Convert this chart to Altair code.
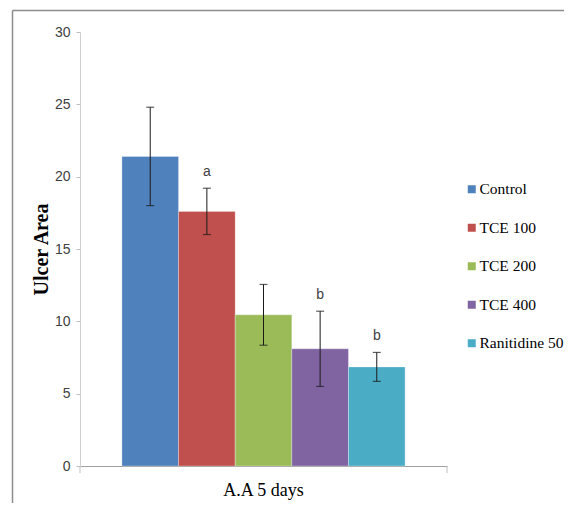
import altair as alt
import pandas as pd

groups = ["Control", "TCE 100", "TCE 200", "TCE 400", "Ranitidine 50"]
means = [21.4, 17.6, 10.45, 8.1, 6.85]
errs = [3.4, 1.6, 2.1, 2.6, 1.0]
letters = ["", "a", "", "b", "b"]
colors = ["#4F81BD", "#C0504D", "#9BBB59", "#8064A2", "#4BACC6"]
period = "A.A 5 days"

df = pd.DataFrame({
    "period": [period] * len(groups),
    "group": groups,
    "mean": means,
    "lo": [m - e for m, e in zip(means, errs)],
    "hi": [m + e for m, e in zip(means, errs)],
    "letter": letters,
})

W, H = 367, 434
label_font = "Liberation Sans"
serif = "Liberation Serif"

x = alt.X("period:N", title=None,
          scale=alt.Scale(paddingInner=0, paddingOuter=0.148),
          axis=alt.Axis(labelAngle=0, ticks=False, labelFont=serif, labelFontSize=18,
                        labelColor="#000000", labelPadding=15, domainColor="#A0A0A0",
                        domainWidth=1.2))
xo = alt.XOffset("group:N", sort=groups, scale=alt.Scale(paddingInner=0, paddingOuter=0))
yscale = alt.Scale(domain=[0, 30])

base = alt.Chart(df)

bars = base.mark_bar(stroke="#FFFFFF", strokeWidth=0.6, strokeOpacity=0.5).encode(
    x=x, xOffset=xo,
    y=alt.Y("mean:Q", scale=yscale, title="Ulcer Area",
            axis=alt.Axis(values=[0, 5, 10, 15, 20, 25, 30], grid=False, tickSize=4,
                          tickColor="#BFBFBF", domainColor="#D0D0D0",
                          labelFont=label_font, labelFontSize=14, labelColor="#404040",
                          labelPadding=6, titleFont=serif, titleFontSize=20,
                          titleFontWeight="bold", titleColor="#000000", titlePadding=3)),
    color=alt.Color("group:N", sort=groups,
                    scale=alt.Scale(domain=groups, range=colors),
                    legend=alt.Legend(title=None, orient="none", legendX=384, legendY=149.5,
                                      symbolType="square", symbolSize=64,
                                      symbolStrokeWidth=0, labelFont=serif,
                                      labelFontSize=15.5, labelColor="#000000",
                                      labelLimit=300,
                                      rowPadding=21.5, labelOffset=0)),
)

err = base.mark_rule(color="#1A1A1A", strokeWidth=1).encode(
    x=x, xOffset=xo, y="lo:Q", y2="hi:Q")
cap_hi = base.mark_tick(color="#1A1A1A", thickness=1.2, size=8).encode(
    x=x, xOffset=xo, y="hi:Q")
cap_lo = base.mark_tick(color="#1A1A1A", thickness=1.2, size=8).encode(
    x=x, xOffset=xo, y="lo:Q")
txt = base.mark_text(font=label_font, fontSize=14, color="#404040", baseline="middle",
                     dy=-16).encode(
    x=x, xOffset=xo, y="hi:Q", text="letter:N")

deco = pd.DataFrame({"a": [0]})
tick_l = alt.Chart(deco).mark_rule(color="#BFBFBF").encode(
    x=alt.value(0), y=alt.value(H), y2=alt.value(H + 7))
tick_r = alt.Chart(deco).mark_rule(color="#BFBFBF").encode(
    x=alt.value(W), y=alt.value(H), y2=alt.value(H + 7))
border_top = alt.Chart(deco).mark_rule(color="#8C8C8C", strokeWidth=1.5).encode(
    x=alt.value(-67.5), x2=alt.value(W + 130), y=alt.value(-21.5))
border_left = alt.Chart(deco).mark_rule(color="#8C8C8C", strokeWidth=1.5).encode(
    x=alt.value(-67.5), y=alt.value(-21.5), y2=alt.value(H + 60))

chart = alt.layer(bars, err, cap_hi, cap_lo, txt, tick_l, tick_r, border_top, border_left).properties(
    width=W, height=H,
    autosize=alt.AutoSizeParams(type="none"),
    padding={"left": 72, "top": 24, "right": 117, "bottom": 37},
).configure_view(stroke=None)

chart.save("out.html", embed_options={"renderer": "svg", "actions": False})
